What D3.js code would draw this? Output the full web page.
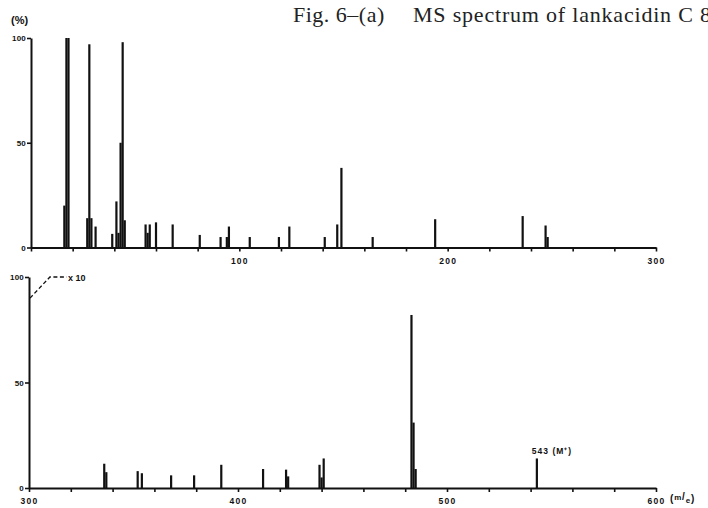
<!DOCTYPE html>
<html>
<head>
<meta charset="utf-8">
<script src="https://cdn.jsdelivr.net/npm/d3@7"></script>
<style>
  html, body { margin: 0; padding: 0; background: #fff; }
  svg { display: block; }
</style>
</head>
<body>
<svg id="chart" width="708" height="508"></svg>
<script>
// ---- data (m/z, relative intensity %) ----
const topMz  = [16, 17, 18, 27, 28, 29, 31, 39, 41, 42, 43, 44, 45, 55, 56, 57, 60, 68, 81, 91, 94, 95, 105, 119, 124, 141, 147, 149, 164, 194, 236, 247, 248];
const topInt = [20, 100, 100, 14, 97, 14, 10, 6.5, 22, 7, 50, 98, 13, 11, 7, 11, 12, 11, 6, 5, 5, 10, 5, 5, 10, 5, 11, 38, 5, 13.5, 15, 10.5, 5];
const botMz  = [336, 337, 352, 354, 368, 379, 392, 412, 423, 424, 439, 440, 441, 483, 484, 485, 543];
const botInt = [11.5, 7.5, 8, 7, 6, 6, 11, 9, 8.7, 5.5, 11, 5, 14, 82, 31, 9, 14];
const topXTicks = [0, 20, 40, 60, 80, 100, 120, 140, 160, 180, 200, 220, 240, 260, 280, 300];
const topXLabels = [100, 200, 300];
const botXTicks = [300, 320, 340, 360, 380, 400, 420, 440, 460, 480, 500, 520, 540, 560, 580, 600];
const botXLabels = [300, 400, 500, 600];
const yTicks = [0, 50, 100];
const titleA = "Fig. 6–(a)";
const titleB = "MS spectrum of lankacidin C 8";
const mLabel = "543 (M⁺)";
const magLabel = "x 10";

const svg = d3.select("#chart");
const lblFont = "'Liberation Sans', Arial, sans-serif";

function panel(mz, inten, xDom, xRange, yRange, ticks, labels) {
  const x = d3.scaleLinear().domain(xDom).range(xRange);
  const y = d3.scaleLinear().domain([0, 100]).range(yRange);
  const g = svg.append("g");
  // peaks
  g.selectAll("rect.peak").data(mz.map((m, i) => ({m, v: inten[i]})))
    .enter().append("rect").attr("class", "peak")
    .attr("x", d => x(d.m) - 1.1).attr("width", 2.2)
    .attr("y", d => y(d.v)).attr("height", d => y(0) - y(d.v))
    .attr("fill", "#111");
  // x axis
  const xa = d3.axisBottom(x).tickValues(ticks).tickSize(4).tickSizeOuter(0).tickPadding(6)
    .tickFormat(d => labels.includes(d) ? d : "");
  const gx = g.append("g").attr("transform", `translate(0,${y(0)})`).call(xa);
  gx.select(".domain").attr("stroke", "#111").attr("stroke-width", 2);
  gx.selectAll(".tick line").attr("stroke", "#111").attr("stroke-width", 1.6);
  gx.selectAll(".tick text").attr("font-family", lblFont).attr("font-weight", "bold")
    .attr("font-size", 8.5).attr("letter-spacing", 1.2).attr("fill", "#111");
  // y axis
  const ya = d3.axisLeft(y).tickValues(yTicks).tickSize(4).tickSizeOuter(0).tickPadding(1);
  const gy = g.append("g").attr("transform", `translate(${x(xDom[0])},0)`).call(ya);
  gy.select(".domain").attr("stroke", "#111").attr("stroke-width", 2);
  gy.selectAll(".tick line").attr("stroke", "#111").attr("stroke-width", 1.6);
  gy.selectAll(".tick text").attr("font-family", lblFont).attr("font-weight", "bold")
    .attr("font-size", 8).attr("letter-spacing", 0.2).attr("fill", "#111");
  return {x, y, g};
}

const topPanel = panel(topMz, topInt, [0, 300], [31, 656], [247.5, 38], topXTicks, topXLabels);
const botPanel = panel(botMz, botInt, [300, 600], [29, 656], [488, 277], botXTicks, botXLabels);

// title
svg.append("text").attr("x", 293).attr("y", 22)
  .attr("font-family", "'Liberation Serif', 'Times New Roman', serif").attr("font-size", 22)
  .attr("letter-spacing", 0.5).attr("fill", "#222").text(titleA);
svg.append("text").attr("x", 413).attr("y", 22)
  .attr("font-family", "'Liberation Serif', 'Times New Roman', serif").attr("font-size", 22)
  .attr("letter-spacing", 0.8).attr("fill", "#222").text(titleB);

// (%) label
svg.append("text").attr("x", 11).attr("y", 24)
  .attr("font-family", lblFont).attr("font-weight", "bold").attr("font-size", 11)
  .attr("fill", "#111").text("(%)");

// x10 annotation
const bx = botPanel.x, by = botPanel.y;
svg.append("path")
  .attr("d", `M${bx(300) + 1},${by(90)} L${bx(310)},${by(100)} L${bx(318)},${by(100)}`)
  .attr("fill", "none").attr("stroke", "#111").attr("stroke-width", 1.3)
  .attr("stroke-dasharray", "4,2.5");
svg.append("text").attr("x", bx(318.7)).attr("y", by(100) + 3.5)
  .attr("font-family", lblFont).attr("font-weight", "bold").attr("font-size", 9)
  .attr("fill", "#111").text(magLabel);

// M+ label
svg.append("text").attr("x", bx(543) - 5).attr("y", by(14) - 4)
  .attr("font-family", lblFont).attr("font-weight", "bold").attr("font-size", 8.5)
  .attr("letter-spacing", 1).attr("fill", "#111").text(mLabel);

// (m/e) unit label
const u = svg.append("text").attr("x", 670).attr("y", 502)
  .attr("font-family", lblFont).attr("font-weight", "bold").attr("font-size", 10)
  .attr("letter-spacing", 0.8).attr("fill", "#111");
u.append("tspan").text("(");
u.append("tspan").attr("dy", -2).attr("font-size", 8).text("m");
u.append("tspan").attr("dy", 0).text("/");
u.append("tspan").attr("dy", 3).attr("font-size", 8).text("e");
u.append("tspan").attr("dy", -1).text(")");
</script>
</body>
</html>
